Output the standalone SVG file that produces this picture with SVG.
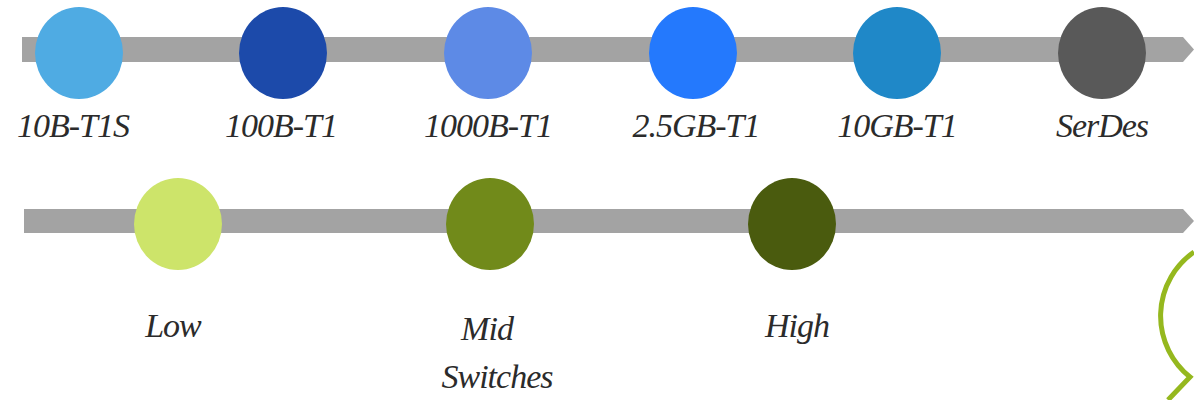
<svg xmlns="http://www.w3.org/2000/svg" width="1194" height="400" viewBox="0 0 1194 400">
<style>
.bar{fill:#a3a3a3}
.lbl{font-family:"Liberation Serif",serif;font-style:italic;font-size:34px;fill:#2b2b2b;text-anchor:middle;font-weight:normal;letter-spacing:-1px}
</style>
<rect width="1194" height="400" fill="#ffffff"/>
<g id="connectors">
<path class="bar" d="M22 37 H1183 L1194 49.5 L1183 62 H22 Z"/>
<path class="bar" d="M24 209 H1183 L1194 221 L1183 233 H24 Z"/>
</g>
<g id="n1"><ellipse cx="79" cy="53" rx="44" ry="46" fill="#4fabe3"/><text class="lbl" x="73" y="137">10B-T1S</text></g>
<g id="n2"><ellipse cx="283" cy="53" rx="44" ry="46" fill="#1c4aaa"/><text class="lbl" x="281" y="137">100B-T1</text></g>
<g id="n3"><ellipse cx="488" cy="53" rx="44" ry="46" fill="#5d8ae6"/><text class="lbl" x="488" y="137">1000B-T1</text></g>
<g id="n4"><ellipse cx="693" cy="53" rx="44" ry="46" fill="#2479fd"/><text class="lbl" x="696" y="137">2.5GB-T1</text></g>
<g id="n5"><ellipse cx="897" cy="53" rx="44" ry="46" fill="#1f88c8"/><text class="lbl" x="897" y="137">10GB-T1</text></g>
<g id="n6"><ellipse cx="1102" cy="53" rx="44" ry="46" fill="#595959"/><text class="lbl" x="1102" y="137">SerDes</text></g>
<g id="n7"><ellipse cx="178" cy="224" rx="44" ry="46" fill="#cde46a"/><text class="lbl" x="173" y="337">Low</text></g>
<g id="n8"><ellipse cx="490" cy="224" rx="44" ry="46" fill="#718a1a"/><text class="lbl" x="487" y="340">Mid</text><text class="lbl" x="497" y="388">Switches</text></g>
<g id="n9"><ellipse cx="792" cy="224" rx="44" ry="46" fill="#4a5b0e"/><text class="lbl" x="797" y="337">High</text></g>
<g id="pin">
<path d="M1194 252 A78 78 0 0 0 1190 377 L1168 400" fill="none" stroke="#95b81e" stroke-width="5"/>
</g>
</svg>
